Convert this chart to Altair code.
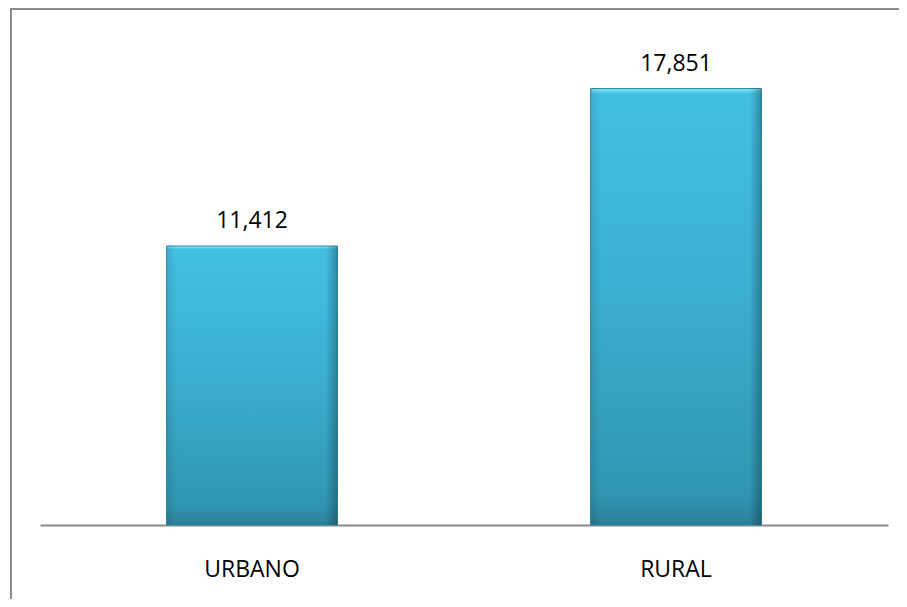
import altair as alt
import pandas as pd

categories = ["URBANO", "RURAL"]
values = [11412, 17851]
labels = ["11,412", "17,851"]

df = pd.DataFrame({"cat": categories, "val": values, "lab": labels})

W, H = 848, 489
PAD_L, PAD_T = 32, 28

x_enc = alt.X(
    "cat:N",
    sort=categories,
    title=None,
    scale=alt.Scale(paddingInner=0.597, paddingOuter=0.2985),
    axis=alt.Axis(
        labelAngle=0,
        labelFont="Open Sans",
        labelFontSize=23,
        labelColor="#000000",
        labelBaseline="alphabetic",
        labelPadding=51,
        ticks=False,
        tickSize=0,
        domainColor="#8a8a8a",
        domainWidth=2,
        grid=False,
    ),
)
y_enc = alt.Y("val:Q", scale=alt.Scale(domain=[0, 20000]), axis=None)

base = alt.Chart(df)

bars = base.mark_bar(
    color=alt.Gradient(
        gradient="linear",
        x1=0, y1=0, x2=0, y2=1,
        stops=[
            alt.GradientStop(offset=0.0, color="#86ECFB"),
            alt.GradientStop(offset=0.012, color="#42C0E4"),
            alt.GradientStop(offset=0.45, color="#3BB0D2"),
            alt.GradientStop(offset=0.93, color="#3096B1"),
            alt.GradientStop(offset=1.0, color="#2B7F97"),
        ],
    ),
    stroke="#2E8AA3",
    strokeWidth=1,
).encode(x=x_enc, y=y_enc)

edges = base.mark_bar(
    color=alt.Gradient(
        gradient="linear",
        x1=0, y1=0, x2=1, y2=0,
        stops=[
            alt.GradientStop(offset=0.0, color="rgba(0,0,0,0.10)"),
            alt.GradientStop(offset=0.06, color="rgba(0,0,0,0)"),
            alt.GradientStop(offset=0.93, color="rgba(0,0,0,0)"),
            alt.GradientStop(offset=1.0, color="rgba(0,0,0,0.28)"),
        ],
    ),
).encode(x=x_enc, y=y_enc)

text = base.mark_text(
    font="Open Sans",
    fontSize=23,
    color="#000000",
    baseline="alphabetic",
    dy=-18,
).encode(x=x_enc, y=y_enc, text="lab:N")

frame = pd.DataFrame({"a": [0]})
border_top = alt.Chart(frame).mark_rule(stroke="#8a8a8a", strokeWidth=2).encode(
    x=alt.value(-PAD_L + 2),
    x2=alt.value(W + 100),
    y=alt.value(-PAD_T + 1),
)
border_left = alt.Chart(frame).mark_rule(stroke="#8a8a8a", strokeWidth=2).encode(
    x=alt.value(-PAD_L + 3),
    y=alt.value(-PAD_T),
    y2=alt.value(H + 200),
)

chart = (
    alt.layer(border_top, border_left, bars, edges, text)
    .properties(
        width=W,
        height=H,
        autosize=alt.AutoSizeParams(type="none"),
        padding={"left": PAD_L, "top": PAD_T, "right": 11, "bottom": 74},
        background="#ffffff",
    )
    .configure_view(stroke=None)
)

chart.save("out.html", embed_options={"renderer": "svg", "actions": False})
